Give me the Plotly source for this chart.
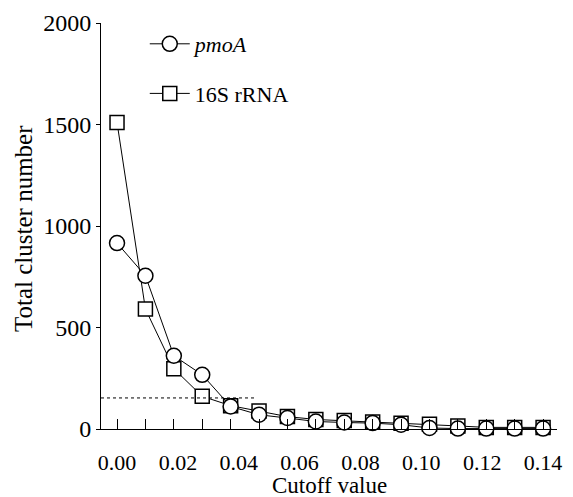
import plotly.graph_objects as go

cutoff = [0.00, 0.01, 0.02, 0.03, 0.04, 0.05, 0.06, 0.07, 0.08, 0.09, 0.10, 0.11, 0.12, 0.13, 0.14, 0.15]
pmoA = [916, 755, 361, 267, 111, 70, 54, 37, 32, 29, 21, 5, 2, 2, 2, 2]
rRNA16S = [1510, 591, 297, 161, 115, 89, 61, 47, 42, 34, 28, 23, 15, 8, 8, 8]
x_tick_labels = ["0.00", "0.02", "0.04", "0.06", "0.08", "0.10", "0.12", "0.14"]
y_ticks = [0, 500, 1000, 1500, 2000]
guide_y = 153
guide_x_end = 0.0486

FONT = "Liberation Serif"
xmin, xmax = -0.00564, 0.1549
# labels spread evenly across the data span (as in the original figure)
label_pos = [cutoff[0] + i * (cutoff[-1] - cutoff[0]) / (len(x_tick_labels) - 1) for i in range(len(x_tick_labels))]

fig = go.Figure()
fig.add_trace(go.Scatter(
    x=cutoff, y=rRNA16S, name="16S rRNA", mode="lines+markers",
    line=dict(color="black", width=1),
    marker=dict(symbol="square", size=14, color="white", line=dict(color="black", width=1.5)),
    legendgroup="b", legendrank=2, cliponaxis=False,
))
fig.add_trace(go.Scatter(
    x=cutoff, y=pmoA, name="<i>pmoA</i>", mode="lines+markers",
    line=dict(color="black", width=1),
    marker=dict(symbol="circle", size=15, color="white", line=dict(color="black", width=1.5)),
    legendgroup="a", legendrank=1, cliponaxis=False,
))

fig.add_shape(type="line", xref="x", yref="y", x0=xmin, x1=guide_x_end, y0=guide_y, y1=guide_y,
              line=dict(color="black", width=1, dash="dot"))

fig.add_annotation(text="Cutoff value", xref="paper", yref="paper", x=(329 - 101) / 456, y=(429 - 486) / 406,
                   xanchor="center", yanchor="middle", showarrow=False,
                   font=dict(size=23, family=FONT, color="black"))
fig.add_annotation(text="Total cluster number", xref="paper", yref="paper", x=(24 - 101) / 456, y=(429 - 229) / 406,
                   xanchor="center", yanchor="middle", showarrow=False, textangle=-90,
                   font=dict(size=25, family=FONT, color="black"))

# page body has an 8px default margin, so the figure is sized to fit the window
fig.update_layout(
    width=565, height=489,
    margin=dict(l=93, r=16, t=15, b=68, autoexpand=False),
    paper_bgcolor="white", plot_bgcolor="white",
    font=dict(family=FONT, size=22, color="black"),
    showlegend=True,
    legend=dict(x=0.096, y=1.0, xanchor="left", yanchor="top",
                bgcolor="rgba(0,0,0,0)", font=dict(size=22, family=FONT),
                tracegroupgap=18, traceorder="grouped", itemwidth=40),
    xaxis=dict(
        range=[xmin, xmax], showgrid=False, zeroline=False, automargin=False,
        showline=True, linecolor="black", linewidth=1,
        tickmode="array", tickvals=label_pos, ticktext=x_tick_labels,
        ticks="", ticklabelstandoff=14, tickfont=dict(size=22, family=FONT),
        minor=dict(tickmode="array", tickvals=cutoff, ticks="inside", ticklen=10,
                   tickcolor="black", tickwidth=1, showgrid=False),
    ),
    yaxis=dict(
        range=[0, 2000], showgrid=False, zeroline=False, automargin=False,
        showline=True, linecolor="black", linewidth=1,
        tickmode="array", tickvals=y_ticks, ticktext=[str(v) for v in y_ticks],
        ticks="outside", ticklen=4, tickcolor="black", tickfont=dict(size=24, family=FONT),
    ),
)

fig.write_html("out.html")
